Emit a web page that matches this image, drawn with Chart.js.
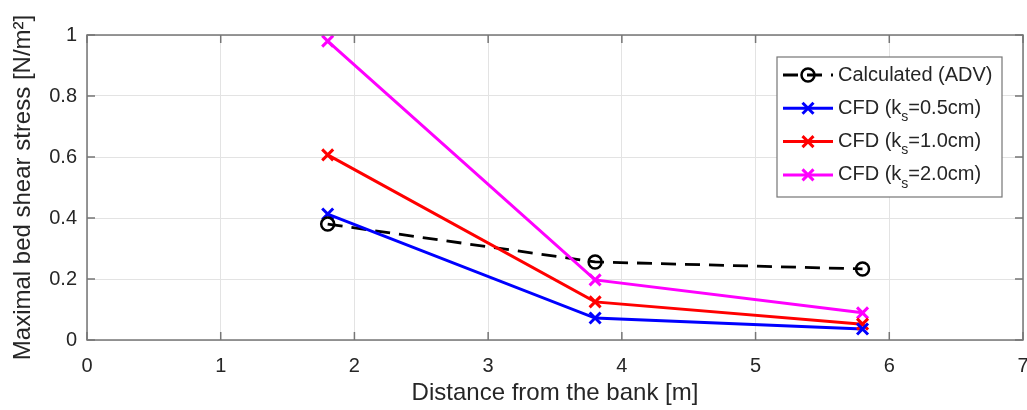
<!DOCTYPE html>
<html lang="en">

<head>
    <meta charset="UTF-8">
    <title>Maximal bed shear stress</title>
    <style>
        html, body {
            margin: 0;
            padding: 0;
            background: #ffffff;
        }

        #wrap {
            width: 1027px;
            height: 410px;
        }
    </style>
</head>

<body>
    <div id="wrap"><canvas id="chart"></canvas></div>
    <script src="https://cdn.jsdelivr.net/npm/chart.js@4/dist/chart.umd.min.js"></script>
    <script>
        // values
        const distances = [1.8, 3.8, 5.8];
        const calculatedADV = [0.38, 0.256, 0.233];
        const cfdKs05 = [0.413, 0.072, 0.036];
        const cfdKs10 = [0.607, 0.125, 0.052];
        const cfdKs20 = [0.98, 0.197, 0.089];

        const xTickValues = [0, 1, 2, 3, 4, 5, 6, 7];
        const yTickValues = [0, 0.2, 0.4, 0.6, 0.8, 1];

        // legend text split round the subscript
        const legendLabels = [
            { pre: 'Calculated (ADV)', sub: '', post: '' },
            { pre: 'CFD (k', sub: 's', post: '=0.5cm)' },
            { pre: 'CFD (k', sub: 's', post: '=1.0cm)' },
            { pre: 'CFD (k', sub: 's', post: '=2.0cm)' }
        ];

        const FONT = "'Liberation Sans', Arial, Helvetica, sans-serif";
        const TEXT = '#262626';
        const AXIS = '#767676';

        function points(ys) {
            return distances.map((x, i) => ({ x: x, y: ys[i] }));
        }

        function drawMarker(ctx, style, color, x, y) {
            ctx.save();
            ctx.strokeStyle = color;
            ctx.setLineDash([]);
            if (style === 'circle') {
                ctx.lineWidth = 2.5;
                ctx.beginPath();
                ctx.arc(x, y, 6.5, 0, Math.PI * 2);
                ctx.stroke();
            } else {
                const r = 5.5;
                ctx.lineWidth = 3;
                ctx.beginPath();
                ctx.moveTo(x - r, y - r);
                ctx.lineTo(x + r, y + r);
                ctx.moveTo(x + r, y - r);
                ctx.lineTo(x - r, y + r);
                ctx.stroke();
            }
            ctx.restore();
        }

        // matlab style box, inward ticks and the legend
        const matlabFrame = {
            id: 'matlabFrame',
            afterDatasetsDraw(chart) {
                const ctx = chart.ctx;
                const area = chart.chartArea;
                const xs = chart.scales.x;
                const ys = chart.scales.y;
                const tl = 8;

                ctx.save();
                ctx.strokeStyle = AXIS;
                ctx.lineWidth = 1.5;
                ctx.setLineDash([]);
                ctx.strokeRect(area.left, area.top, area.right - area.left, area.bottom - area.top);

                ctx.beginPath();
                xTickValues.forEach(v => {
                    const px = xs.getPixelForValue(v);
                    ctx.moveTo(px, area.bottom);
                    ctx.lineTo(px, area.bottom - tl);
                    ctx.moveTo(px, area.top);
                    ctx.lineTo(px, area.top + tl);
                });
                yTickValues.forEach(v => {
                    const py = ys.getPixelForValue(v);
                    ctx.moveTo(area.left, py);
                    ctx.lineTo(area.left + tl, py);
                    ctx.moveTo(area.right, py);
                    ctx.lineTo(area.right - tl, py);
                });
                ctx.stroke();

                // legend
                const w = 225;
                const h = 140;
                const left = area.right - 21 - w;
                const top = area.top + 22;
                ctx.fillStyle = '#ffffff';
                ctx.fillRect(left, top, w, h);
                ctx.strokeStyle = AXIS;
                ctx.lineWidth = 1.2;
                ctx.strokeRect(left, top, w, h);

                chart.data.datasets.forEach((ds, i) => {
                    const y = top + 18 + i * 33.3;
                    ctx.save();
                    ctx.strokeStyle = ds.borderColor;
                    ctx.lineWidth = ds.borderWidth;
                    ctx.setLineDash(ds.borderDash || []);
                    ctx.beginPath();
                    ctx.moveTo(left + 6, y);
                    ctx.lineTo(left + 56, y);
                    ctx.stroke();
                    ctx.restore();
                    drawMarker(ctx, ds.pointStyle, ds.borderColor, left + 31, y);

                    const lab = legendLabels[i];
                    let tx = left + 61;
                    ctx.fillStyle = TEXT;
                    ctx.textBaseline = 'middle';
                    ctx.textAlign = 'left';
                    ctx.font = '20px ' + FONT;
                    ctx.fillText(lab.pre, tx, y);
                    tx += ctx.measureText(lab.pre).width;
                    if (lab.sub) {
                        ctx.font = '14px ' + FONT;
                        ctx.fillText(lab.sub, tx, y + 9);
                        tx += ctx.measureText(lab.sub).width;
                        ctx.font = '20px ' + FONT;
                        ctx.fillText(lab.post, tx, y);
                    }
                });
                ctx.restore();
            }
        };

        const markerPlugin = {
            id: 'markers',
            afterDatasetsDraw(chart) {
                // draw markers ourselves so size and stroke match the figure
                const ctx = chart.ctx;
                const order = chart.data.datasets.map((d, i) => i).reverse();
                order.forEach(i => {
                    const ds = chart.data.datasets[i];
                    const meta = chart.getDatasetMeta(i);
                    meta.data.forEach(pt => drawMarker(ctx, ds.pointStyle, ds.borderColor, pt.x, pt.y));
                });
            }
        };

        new Chart(document.getElementById('chart'), {
            type: 'line',
            data: {
                datasets: [
                    {
                        label: 'Calculated (ADV)',
                        data: points(calculatedADV),
                        borderColor: '#000000',
                        borderWidth: 2.8,
                        borderDash: [15, 9],
                        pointStyle: 'circle',
                        order: 4
                    },
                    {
                        label: 'CFD (ks=0.5cm)',
                        data: points(cfdKs05),
                        borderColor: '#0000ff',
                        borderWidth: 3,
                        pointStyle: 'crossRot',
                        order: 3
                    },
                    {
                        label: 'CFD (ks=1.0cm)',
                        data: points(cfdKs10),
                        borderColor: '#ff0000',
                        borderWidth: 3,
                        pointStyle: 'crossRot',
                        order: 2
                    },
                    {
                        label: 'CFD (ks=2.0cm)',
                        data: points(cfdKs20),
                        borderColor: '#ff00ff',
                        borderWidth: 3,
                        pointStyle: 'crossRot',
                        order: 1
                    }
                ]
            },
            options: {
                responsive: true,
                maintainAspectRatio: false,
                animation: false,
                devicePixelRatio: 1,
                layout: {
                    padding: { top: 35, right: 4, bottom: 0, left: 0 }
                },
                elements: {
                    point: { radius: 0, hoverRadius: 0 },
                    line: { tension: 0, fill: false }
                },
                scales: {
                    x: {
                        type: 'linear',
                        min: 0,
                        max: 7,
                        afterBuildTicks: scale => {
                            scale.ticks = xTickValues.map(v => ({ value: v }));
                        },
                        afterFit: scale => {
                            scale.height = 70;
                            scale.paddingLeft = 0;
                            scale.paddingRight = 0;
                        },
                        grid: { color: '#e3e3e3', lineWidth: 1, drawTicks: false },
                        border: { display: false },
                        ticks: {
                            padding: 14,
                            color: TEXT,
                            font: { family: FONT, size: 20 },
                            maxRotation: 0,
                            callback: v => String(v)
                        },
                        title: {
                            display: true,
                            text: 'Distance from the bank [m]',
                            color: TEXT,
                            font: { family: FONT, size: 24 },
                            padding: { top: 0, bottom: 2 }
                        }
                    },
                    y: {
                        min: 0,
                        max: 1,
                        afterBuildTicks: scale => {
                            scale.ticks = yTickValues.map(v => ({ value: v }));
                        },
                        afterFit: scale => {
                            scale.width = 87;
                            scale.paddingTop = 0;
                            scale.paddingBottom = 0;
                        },
                        grid: { color: '#e3e3e3', lineWidth: 1, drawTicks: false },
                        border: { display: false },
                        ticks: {
                            padding: 10,
                            color: TEXT,
                            font: { family: FONT, size: 20 },
                            callback: v => String(+v.toFixed(1))
                        },
                        title: {
                            display: true,
                            text: 'Maximal bed shear stress [N/m²]',
                            color: TEXT,
                            font: { family: FONT, size: 24 },
                            padding: { top: 9, bottom: 0 }
                        }
                    }
                },
                plugins: {
                    legend: { display: false },
                    tooltip: { enabled: false }
                }
            },
            plugins: [markerPlugin, matlabFrame]
        });
    </script>
</body>

</html>
